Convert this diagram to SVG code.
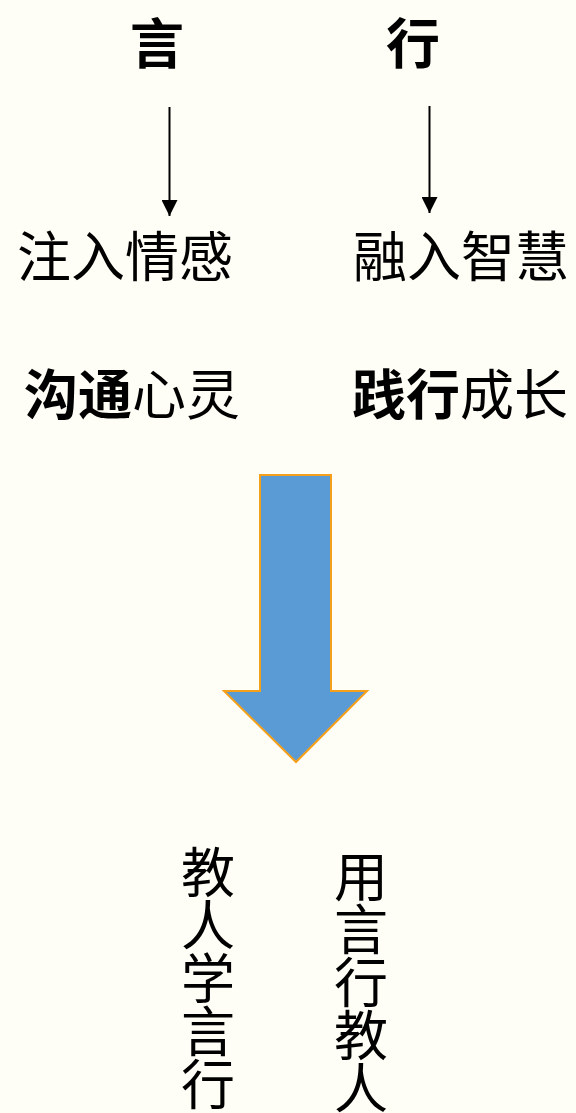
<svg xmlns="http://www.w3.org/2000/svg" width="576" height="1113" viewBox="0 0 576 1113">
<defs>
<style>
.t{font-family:"Microsoft YaHei","Noto Sans CJK SC",sans-serif;font-size:54px;fill:#000;text-anchor:middle}
.tl{font-family:"Microsoft YaHei","Noto Sans CJK SC",sans-serif;font-size:54px;fill:#000}
.b{font-weight:bold}
.c{stroke:#000;stroke-width:2;fill:none}
</style>
<marker id="ah" viewBox="0 0 16 16" refX="16" refY="8" markerWidth="16" markerHeight="16" markerUnits="userSpaceOnUse" orient="auto">
<path d="M0,0 L16,8 L0,16 Z" fill="#000"/>
</marker>
</defs>
<rect width="576" height="1113" fill="#FFFEF6"/>
<g id="n-yan"><text class="t b" x="157" y="64">言</text></g>
<g id="n-xing"><text class="t b" x="413" y="64">行</text></g>
<g id="n-zhuru"><text class="tl" x="17" y="277">注入情感</text></g>
<g id="n-rongru"><text class="tl" x="353" y="277">融入智慧</text></g>
<g id="n-goutong"><text class="tl" x="24" y="415"><tspan class="b">沟通</tspan>心灵</text></g>
<g id="n-jianxing"><text class="tl" x="352" y="415"><tspan class="b">践行</tspan>成长</text></g>
<g id="connectors">
<line class="c" x1="169.5" y1="107" x2="169.5" y2="216" marker-end="url(#ah)"/>
<line class="c" x1="429.5" y1="106" x2="429.5" y2="213" marker-end="url(#ah)"/>
</g>
<g id="big-arrow">
<path d="M260,475 L331,475 L331,691 L367,691 L296,762 L224,691 L260,691 Z" fill="#5B9BD5" stroke="#F5A01A" stroke-width="2"/>
</g>
<g id="n-jiaoren">
<text class="t" x="208" y="893">教</text>
<text class="t" x="208" y="946">人</text>
<text class="t" x="208" y="999">学</text>
<text class="t" x="208" y="1052">言</text>
<text class="t" x="208" y="1105">行</text>
</g>
<g id="n-yongyan">
<text class="t" x="361" y="897">用</text>
<text class="t" x="361" y="950">言</text>
<text class="t" x="361" y="1003">行</text>
<text class="t" x="361" y="1056">教</text>
<text class="t" x="361" y="1109">人</text>
</g>
</svg>
